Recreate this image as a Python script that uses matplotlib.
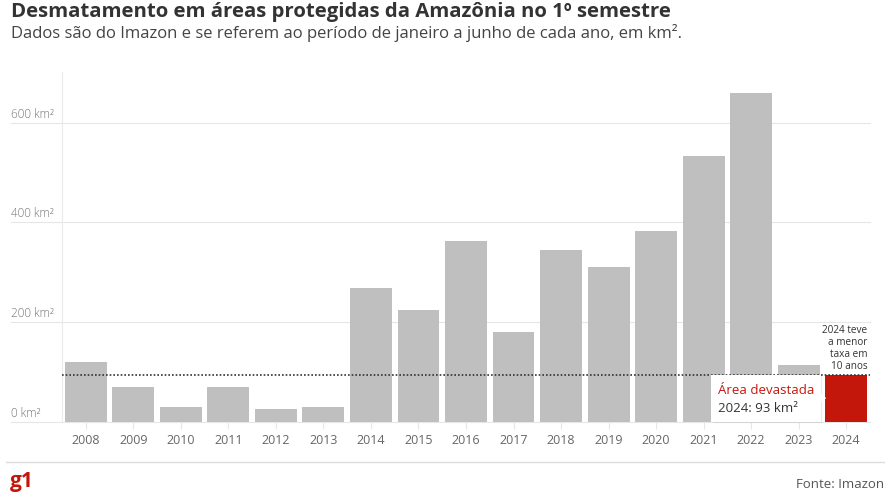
import numpy as np
import matplotlib.pyplot as plt
from matplotlib.patches import Rectangle, Polygon
import matplotlib.transforms as mtransforms

plt.rcParams['font.family'] = ['Open Sans', 'DejaVu Sans']

# Data (km², Jan-Jun of each year)
years = ['2008', '2009', '2010', '2011', '2012', '2013', '2014', '2015', '2016',
         '2017', '2018', '2019', '2020', '2021', '2022', '2023', '2024']
area = [119, 69, 30, 70, 25, 30, 268, 224, 363, 180, 345, 311, 383, 534, 660, 113, 93]
yticks = [0, 200, 400, 600]
ytick_labels = ['0 km²', '200 km²', '400 km²', '600 km²']

gray = '#bfbfbf'
red = '#c4170c'

fig = plt.figure(figsize=(8.9, 5.01), dpi=100)
ax = fig.add_axes([62 / 890, 1 - 421.5 / 501, 808 / 890, 349.5 / 501])

x = np.arange(len(years))
colors = [gray] * (len(years) - 1) + [red]
ax.bar(x, area, width=0.88, color=colors, zorder=2)
ax.set_xlim(-0.5, len(years) - 0.5)
ax.set_ylim(0, 702)

for s in ['top', 'right', 'bottom']:
    ax.spines[s].set_visible(False)
ax.spines['left'].set_color('#ebebeb')
ax.set_yticks([])
ax.set_xticks(x)
ax.set_xticklabels(years, fontsize=9, color='#666666')
ax.tick_params(axis='x', length=5, color='#e6e6e6', pad=4)

# gridlines extending to the left edge, labels above them
xl = (11 - 62) / 808
trans = mtransforms.blended_transform_factory(ax.transAxes, ax.transData)
for v, lab in zip(yticks, ytick_labels):
    ax.plot([xl, 1], [v, v], color='#e6e6e6', lw=0.8, transform=trans,
            clip_on=False, zorder=1)
    ax.text(xl, v + 4, lab, transform=trans, fontsize=8.5, color='#777777',
            ha='left', va='bottom', fontweight='light')

# dotted reference line at 2024 level
ax.plot([0, 1], [area[-1], area[-1]], color='#333333', lw=1.2,
        ls=(0, (1, 1.2)), transform=trans, clip_on=False, zorder=3)

ax.text(len(years) - 0.55, area[-1] + 6, '2024 teve\na menor\ntaxa em\n10 anos',
        fontsize=7.2, color='#333333', ha='right', va='bottom', linespacing=1.15,
        zorder=4)

# tooltip
x0, x1 = 13.16, 15.46
ax.add_patch(Rectangle((x0 + 0.03, -4), x1 - x0, 96, facecolor='#000000',
                       alpha=0.08, edgecolor='none', zorder=4, clip_on=False))
ax.add_patch(Rectangle((x0, 0), x1 - x0, 94, facecolor='white',
                       edgecolor='none', zorder=5, clip_on=False))
ax.add_patch(Polygon([[x1, 38], [x1 + 0.12, 47], [x1, 56]], closed=True,
                     facecolor='white', edgecolor='none', zorder=5))
ax.text(x0 + 0.15, 63, 'Área devastada', fontsize=9.5, color=red,
        ha='left', va='center', zorder=6)
ax.text(x0 + 0.15, 27, '2024: 93 km²', fontsize=9.5, color='#333333',
        ha='left', va='center', zorder=6)

# titles
fig.text(11 / 890, 1 - 12 / 501, 'Desmatamento em áreas protegidas da Amazônia no 1º semestre',
         fontsize=14.7, fontweight='bold', color='#333333', ha='left', va='center')
fig.text(11 / 890, 1 - 33 / 501,
         'Dados são do Imazon e se referem ao período de janeiro a junho de cada ano, em km².',
         fontsize=12, color='#444444', ha='left', va='center')

# footer
fig.add_artist(plt.Line2D([6 / 890, 884 / 890], [1 - 462 / 501] * 2,
                          color='#dddddd', lw=1))
fig.text(10 / 890, 1 - 482 / 501, 'g1', fontsize=15, fontweight='bold',
         color=red, ha='left', va='center')
fig.text(884 / 890, 1 - 485 / 501, 'Fonte: Imazon', fontsize=9.5,
         color='#555555', ha='right', va='center')

fig.savefig('out.png', dpi=100)
